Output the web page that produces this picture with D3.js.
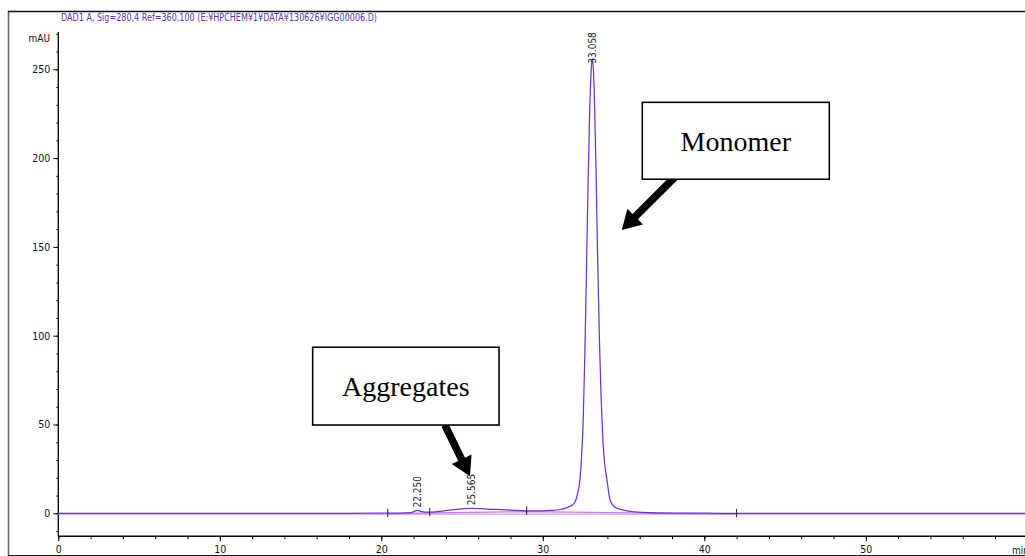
<!DOCTYPE html>
<html><head><meta charset="utf-8">
<script src="https://cdn.jsdelivr.net/npm/d3@7"></script>
<style>
html,body{margin:0;padding:0;background:#fff;}
svg{display:block;}
.narrow{font-family:'Liberation Sans Narrow','Arial Narrow','DejaVu Sans Condensed',sans-serif;}
.serif{font-family:'Liberation Serif','Times New Roman',serif;}
</style></head><body>
<svg id="chart" width="1025" height="556"></svg>
<script>
// Chromatogram trace (DAD1 A, 280 nm): retention time in minutes and signal in mAU
const timeMin = [0, 5, 10, 15, 20, 20.4, 21.0, 21.5, 21.8, 22.0, 22.25, 22.5, 22.8, 23.0, 23.5, 24.2, 25.0, 25.565, 26.2, 27.0, 28.0, 29.0, 29.5, 30.0, 30.5, 31.0, 31.5, 31.8, 32.0, 32.15, 32.3, 32.4, 32.5, 32.6, 32.7, 32.8, 32.9, 33.0, 33.058, 33.12, 33.2, 33.3, 33.4, 33.5, 33.6, 33.7, 33.8, 33.9, 34.0, 34.15, 34.3, 34.5, 35.0, 35.5, 36.5, 38.0, 40.0, 42.0, 50.0, 60.0];
const absorbance = [0, 0, 0, 0, 0.05, 0.1, 0.15, 0.2, 0.35, 0.9, 1.6, 1.0, 0.6, 0.6, 1.0, 1.8, 2.5, 2.8, 2.6, 2.2, 1.8, 1.4, 1.3, 1.4, 1.6, 2.0, 3.2, 4.5, 6.5, 11, 19, 32, 52, 88, 135, 185, 225, 250, 256, 252, 232, 192, 142, 100, 68, 45, 31, 23, 17, 8, 5, 3.3, 1.8, 1.0, 0.4, 0.15, 0.05, 0, 0, 0];

// Integrated peaks and their labels
const peakTimes = [22.250, 25.565, 33.058];
const peakHeights = [1.6, 2.8, 256];
const peakLabels = ["22.250", "25.565", "33.058"];

// Integration event marks (min)
const integrationMarks = [20.4, 23.0, 29.0, 42.0];

// Axis ticks
const xMajorTicks = [0, 10, 20, 30, 40, 50];
const xMinorTicks = d3.range(0, 60, 2);
const yMajorTicks = [0, 50, 100, 150, 200, 250];
const yMinorTicks = d3.range(-10, 271, 10);

const headerText = "DAD1 A, Sig=280,4 Ref=360,100 (E:\u00a5HPCHEM\u00a51\u00a5DATA\u00a5130626\u00a5IGG00006.D)";

// Call-out boxes (data units: time range, mAU range) and arrows (tail -> tip)
const calloutText = ["Monomer", "Aggregates"];
const calloutBoxT = [[36.16, 47.74], [15.75, 27.29]];
const calloutBoxV = [[231.4, 188.1], [93.5, 49.7]];
const arrowTail = [[38.2, 189.5], [23.94, 49.7]];
const arrowTip = [[34.89, 159.5], [25.49, 20.8]];

const svg = d3.select("#chart");
const x = d3.scaleLinear().domain([0, 60]).range([58.3, 58.3 + 60 * 16.15]);
const y = d3.scaleLinear().domain([0, 250]).range([513.3, 69.3]);

// outer frame
svg.append("line").attr("x1", 8.5).attr("x2", 8.5).attr("y1", 11).attr("y2", 556)
  .attr("stroke", "#666").attr("stroke-width", 1.6);
svg.append("line").attr("x1", 8).attr("x2", 1025).attr("y1", 11.5).attr("y2", 11.5)
  .attr("stroke", "#111").attr("stroke-width", 1.4);
svg.append("line").attr("x1", 8).attr("x2", 1025).attr("y1", 555.5).attr("y2", 555.5)
  .attr("stroke", "#222").attr("stroke-width", 1.2);

// header
svg.append("text").attr("class", "narrow").attr("x", 61).attr("y", 21)
  .attr("font-size", 10).attr("fill", "#5b33b5")
  .attr("textLength", 316).attr("lengthAdjust", "spacingAndGlyphs")
  .text(headerText);

// y axis
const yAxisG = svg.append("g").attr("transform", `translate(${x(0)},0)`);
yAxisG.append("line").attr("x1", 0).attr("x2", 0).attr("y1", y(271)).attr("y2", y(-12.9))
  .attr("stroke", "#000").attr("stroke-width", 1.3);
const yMinor = yAxisG.append("g").call(d3.axisLeft(y).tickValues(yMinorTicks).tickSize(2).tickFormat(""));
const yMajor = yAxisG.append("g").call(d3.axisLeft(y).tickValues(yMajorTicks).tickSize(5).tickPadding(3));
[yMinor, yMajor].forEach(g => {
  g.select(".domain").remove();
  g.selectAll("line").attr("stroke", "#000");
});
yMajor.selectAll("text").attr("class", "narrow").attr("font-size", 10.5).attr("fill", "#111");
svg.append("text").attr("class", "narrow").attr("x", 50).attr("y", 42)
  .attr("text-anchor", "end").attr("font-size", 10).attr("fill", "#111").text("mAU");

// x axis
const xAxisY = y(-12.9);
const xAxisG = svg.append("g").attr("transform", `translate(0,${xAxisY})`);
xAxisG.append("line").attr("x1", x(0)).attr("x2", 1025).attr("y1", 0).attr("y2", 0)
  .attr("stroke", "#000").attr("stroke-width", 1.5);
const xMinor = xAxisG.append("g").call(d3.axisBottom(x).tickValues(xMinorTicks).tickSize(3).tickFormat(""));
const xMajor = xAxisG.append("g").call(d3.axisBottom(x).tickValues(xMajorTicks).tickSize(5).tickPadding(4));
[xMinor, xMajor].forEach(g => {
  g.select(".domain").remove();
  g.selectAll("line").attr("stroke", "#000");
});
xMajor.selectAll("text").attr("class", "narrow").attr("font-size", 10.5).attr("fill", "#111");
// the unit label runs off the right edge of the plot window
svg.append("text").attr("class", "narrow").attr("x", 1012).attr("y", 553.5)
  .attr("font-size", 10).attr("fill", "#111").text("min");

// integration baseline
const markVals = integrationMarks.map(t => {
  const i = timeMin.indexOf(t);
  return i >= 0 ? absorbance[i] : 0;
});
svg.append("line").attr("x1", x(0)).attr("x2", 1025).attr("y1", y(0) + 0.8).attr("y2", y(0) + 0.8)
  .attr("stroke", "#c7a6ee").attr("stroke-width", 1.3);
svg.append("path")
  .datum(integrationMarks.map((t, i) => [t, markVals[i]]))
  .attr("d", d3.line().x(d => x(d[0])).y(d => y(d[1]) + 0.8))
  .attr("fill", "none").attr("stroke", "#d27ade").attr("stroke-width", 1.4);

// signal trace
svg.append("path")
  .datum(timeMin.map((t, i) => [t, absorbance[i]]))
  .attr("d", d3.line().x(d => x(d[0])).y(d => y(d[1])).curve(d3.curveMonotoneX))
  .attr("fill", "none").attr("stroke", "#6a34cf").attr("stroke-width", 1.25);

// integration event marks
svg.selectAll(".imark").data(integrationMarks.map((t, i) => [t, markVals[i]])).join("line")
  .attr("class", "imark")
  .attr("x1", d => x(d[0])).attr("x2", d => x(d[0]))
  .attr("y1", d => y(d[1]) - 4.5).attr("y2", d => y(d[1]) + 4)
  .attr("stroke", "#222").attr("stroke-width", 1);

// peak retention-time labels; the tall peak's label sits over its apex
svg.selectAll(".plabel").data(peakTimes).join("text")
  .attr("class", "plabel narrow")
  .attr("transform", (t, i) => {
    const py = peakHeights[i] > 100 ? y(peakHeights[i]) + 5 : y(peakHeights[i]) - 3;
    return `translate(${x(t) + 3.5},${py}) rotate(-90)`;
  })
  .attr("font-size", 10).attr("fill", "#222")
  .text((t, i) => peakLabels[i]);

// call-out arrows
function arrowPath(tail, tip, shaft, headW, headL) {
  const x0 = x(tail[0]), y0 = y(tail[1]), x1 = x(tip[0]), y1 = y(tip[1]);
  const dx = x1 - x0, dy = y1 - y0, len = Math.hypot(dx, dy);
  const ux = dx / len, uy = dy / len, px = -uy, py = ux;
  const bx = x1 - ux * headL, by = y1 - uy * headL;
  const pts = [
    [x0 + px * shaft / 2, y0 + py * shaft / 2],
    [bx + px * shaft / 2, by + py * shaft / 2],
    [bx + px * headW / 2, by + py * headW / 2],
    [x1, y1],
    [bx - px * headW / 2, by - py * headW / 2],
    [bx - px * shaft / 2, by - py * shaft / 2],
    [x0 - px * shaft / 2, y0 - py * shaft / 2]
  ];
  return "M" + pts.map(p => p.join(",")).join("L") + "Z";
}
calloutText.forEach((label, i) => {
  svg.append("path").attr("d", arrowPath(arrowTail[i], arrowTip[i], 7.5, 22, 19)).attr("fill", "#000");
  const bx0 = x(calloutBoxT[i][0]), bx1 = x(calloutBoxT[i][1]);
  const by0 = y(calloutBoxV[i][0]), by1 = y(calloutBoxV[i][1]);
  svg.append("rect").attr("x", bx0).attr("y", by0).attr("width", bx1 - bx0).attr("height", by1 - by0)
    .attr("fill", "#fff").attr("stroke", "#000").attr("stroke-width", 1.6);
  svg.append("text").attr("class", "serif").attr("x", (bx0 + bx1) / 2).attr("y", (by0 + by1) / 2 + 10)
    .attr("text-anchor", "middle").attr("font-size", 28).attr("fill", "#000").text(label);
});
</script>
</body></html>
